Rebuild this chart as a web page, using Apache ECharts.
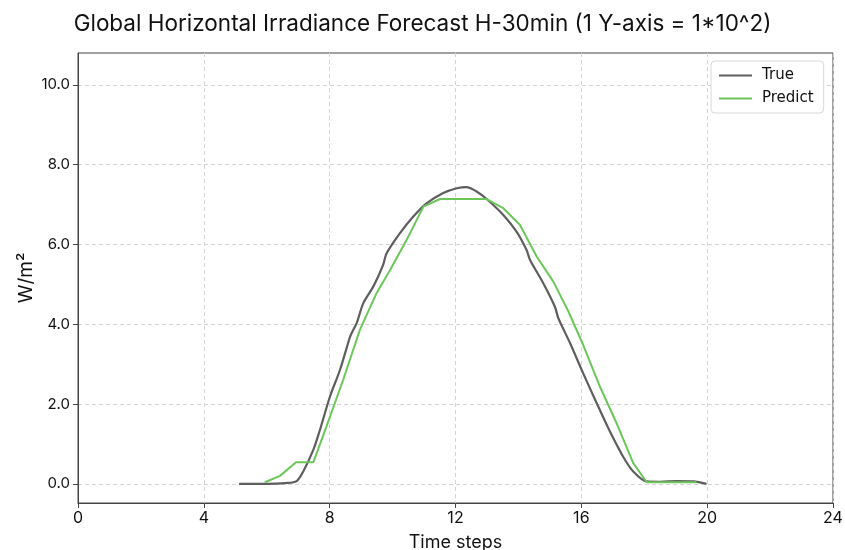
<!DOCTYPE html>
<html><head><meta charset="utf-8">
<script src="https://cdn.jsdelivr.net/npm/echarts@6/dist/echarts.min.js"></script>
<style>html,body{margin:0;padding:0;background:#fff}#c{width:845px;height:550px}</style>
</head><body><div id="c"></div>
<script>
const xTicks = [0, 4, 8, 12, 16, 20, 24];
const yTicks = [0, 2, 4, 6, 8, 10];
const trueX = [5.12, 6.0, 6.6, 6.95, 7.16, 7.48, 7.69, 8.01, 8.33, 8.65, 8.75, 8.86, 9.07, 9.39, 9.70, 9.81, 10.23, 10.66, 11.08, 11.61, 12.04, 12.35, 12.67, 12.99, 13.52, 13.94, 14.26, 14.37, 14.79, 15.16, 15.27, 15.64, 16.06, 16.49, 16.91, 17.33, 17.65, 18.08, 18.5, 19.03, 19.56, 19.98];
const trueY = [0.0, 0.0, 0.02, 0.07, 0.31, 0.85, 1.35, 2.19, 2.86, 3.69, 3.86, 4.03, 4.53, 4.95, 5.49, 5.78, 6.28, 6.70, 7.03, 7.29, 7.41, 7.44, 7.33, 7.14, 6.74, 6.32, 5.86, 5.61, 5.03, 4.44, 4.15, 3.53, 2.77, 2.02, 1.31, 0.68, 0.31, 0.06, 0.05, 0.07, 0.06, 0.0];
const predX = [5.94, 6.42, 6.93, 7.48, 7.90, 8.43, 8.96, 9.49, 9.92, 10.45, 10.98, 11.51, 12.99, 13.52, 14.05, 14.58, 15.11, 15.59, 16.06, 16.59, 17.12, 17.65, 18.08, 19.66];
const predY = [0.04, 0.20, 0.54, 0.54, 1.44, 2.61, 3.86, 4.78, 5.36, 6.12, 6.95, 7.14, 7.14, 6.91, 6.49, 5.70, 5.07, 4.32, 3.48, 2.44, 1.52, 0.52, 0.04, 0.04];

const pair = (xs, ys) => xs.map((x, i) => [x, ys[i]]);
const chart = echarts.init(document.getElementById('c'));
chart.setOption({
  animation: false,
  title: {
    text: 'Global Horizontal Irradiance Forecast H-30min (1 Y-axis = 1*10^2)',
    left: 'center', top: 8,
    textStyle: { fontFamily: 'Inter', fontSize: 22.5, fontWeight: 'normal', color: '#111' }
  },
  grid: { left: 78, right: 12, top: 53, bottom: 47, show: true, borderColor: '#444', borderWidth: 1,
          containLabel: false, outerBoundsMode: 'none' },
  legend: {
    orient: 'vertical', left: 711, top: 61,
    padding: [7, 10, 7, 8], itemGap: 8,
    borderColor: '#d8d8d8', borderWidth: 1, borderRadius: 4, backgroundColor: '#fff',
    itemWidth: 33, itemHeight: 15,
    textStyle: { fontFamily: 'DejaVu Sans', fontSize: 15, color: '#111', padding: [0, 0, 0, 5] },
    data: [
      { name: 'True', icon: 'path://M0,6 L33,6 L33,8 L0,8 Z', itemStyle: { color: '#5e5e5e' } },
      { name: 'Predict', icon: 'path://M0,6 L33,6 L33,8 L0,8 Z', itemStyle: { color: '#6cc65a' } }
    ]
  },
  xAxis: {
    type: 'value', min: 0, max: 24, interval: 4,
    name: 'Time steps', nameLocation: 'middle', nameGap: 31,
    nameTextStyle: { fontFamily: 'Inter', fontSize: 18, color: '#111' },
    axisLine: { show: true, onZero: false, lineStyle: { color: '#444' } },
    axisTick: { show: true, length: 5, lineStyle: { color: '#444' } },
    axisLabel: { fontFamily: 'Inter', fontSize: 16, color: '#111', margin: 7, showMaxLabel: true, showMinLabel: true },
    splitLine: { show: true, lineStyle: { color: '#d4d4d4', type: [4, 3] } }
  },
  yAxis: {
    type: 'value', min: -0.48, max: 10.8,
    name: 'W/m²', nameLocation: 'middle', nameGap: 42, nameMoveOverlap: false,
    nameTextStyle: { fontFamily: 'Inter', fontSize: 19, color: '#111' },
    axisLine: { show: true, onZero: false, lineStyle: { color: '#444' } },
    axisTick: { show: true, length: 5, customValues: yTicks, lineStyle: { color: '#444' } },
    axisLabel: { fontFamily: 'Inter', fontSize: 15, color: '#111', margin: 8, customValues: yTicks, formatter: v => Number(v).toFixed(1) },
    splitLine: { show: true, lineStyle: { color: '#d4d4d4', type: [4, 3] } }
  },
  series: [
    { name: 'True', type: 'line', data: pair(trueX, trueY), showSymbol: false, smooth: 0.3,
      lineStyle: { color: '#5e5e5e', width: 2.2 }, itemStyle: { color: '#5e5e5e' } },
    { name: 'Predict', type: 'line', data: pair(predX, predY), showSymbol: false,
      lineStyle: { color: '#6cc65a', width: 2 }, itemStyle: { color: '#6cc65a' } }
  ]
});
</script></body></html>
